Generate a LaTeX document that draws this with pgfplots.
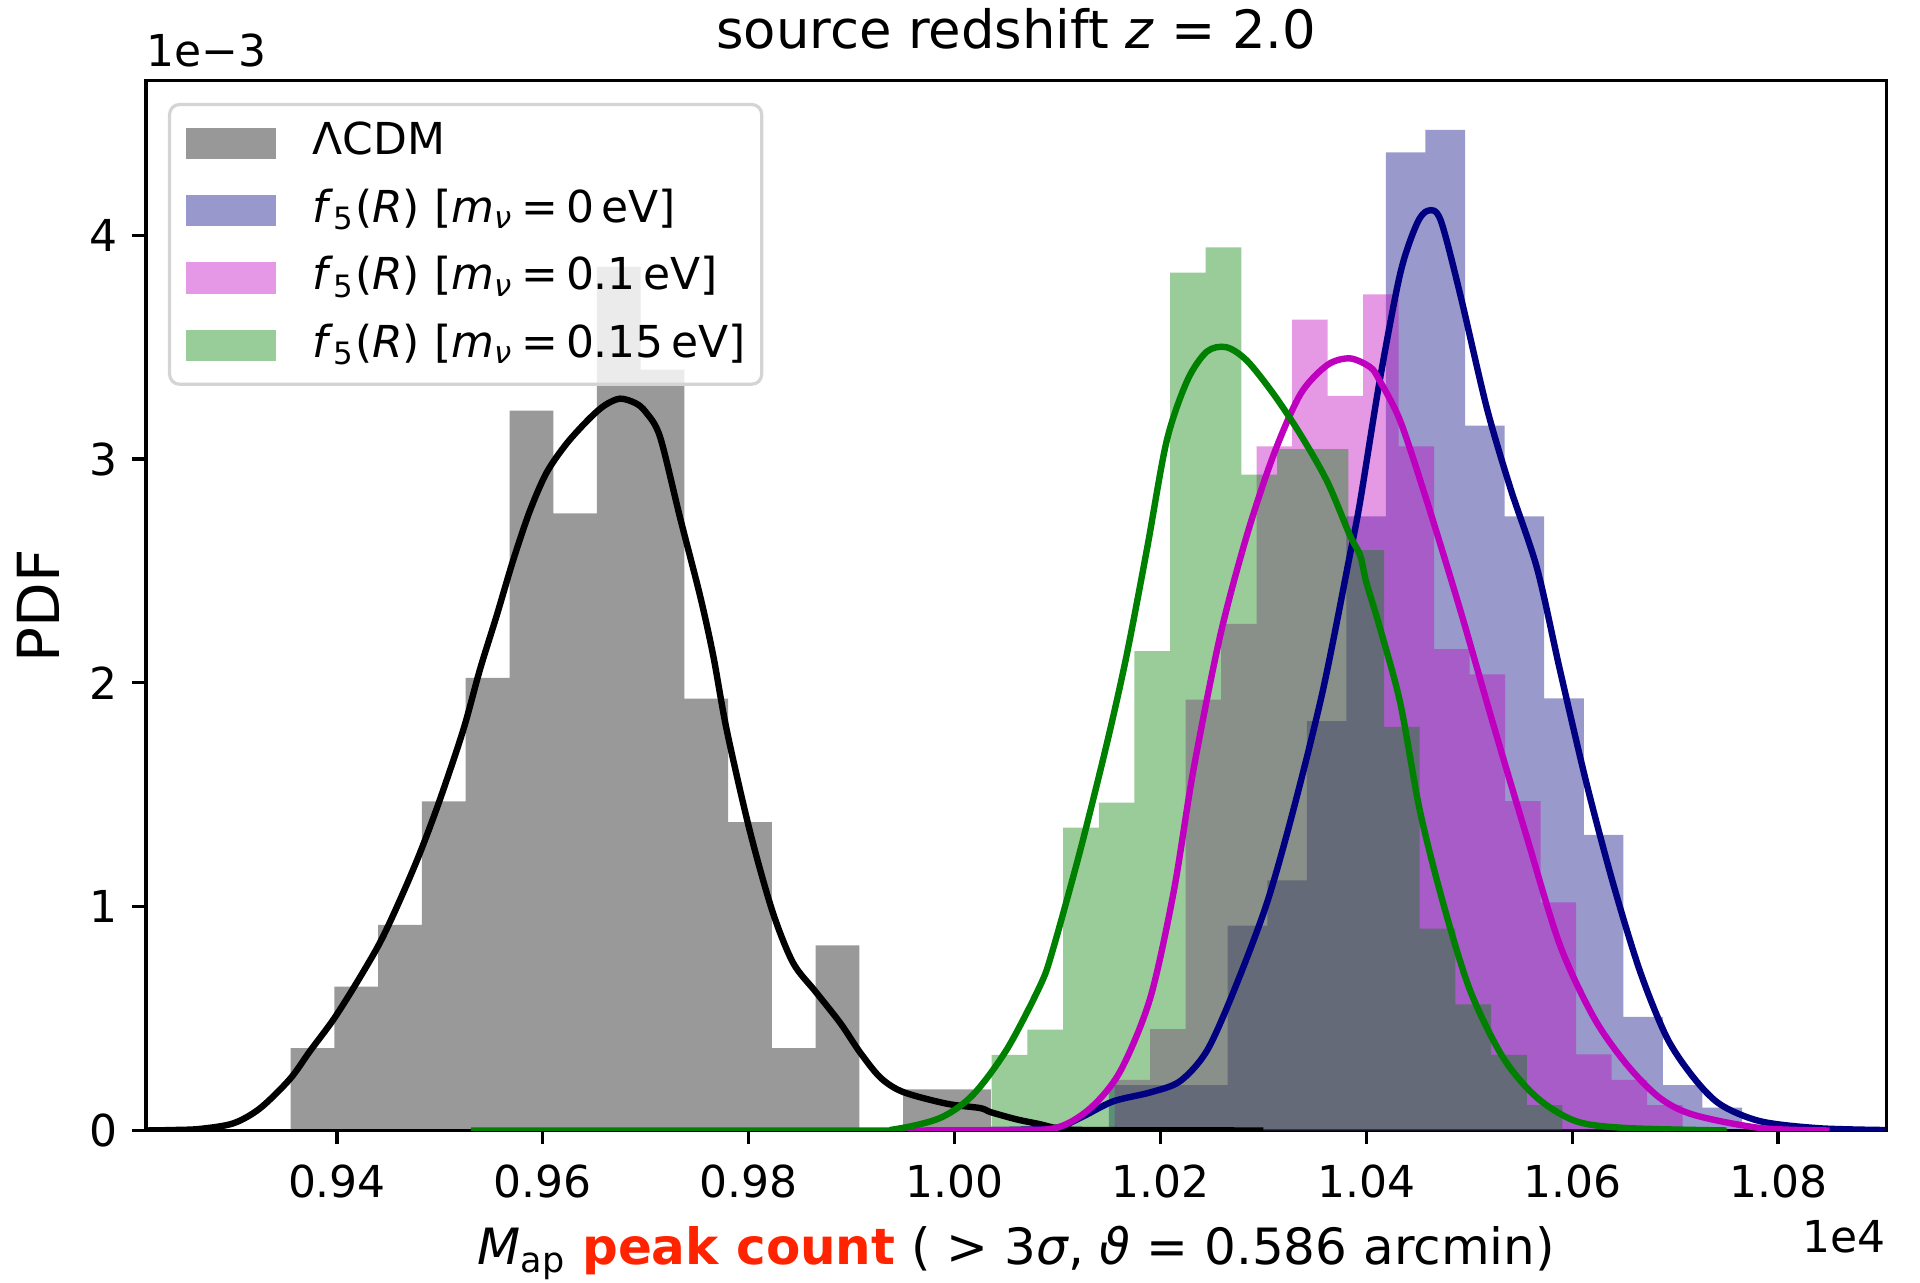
\documentclass[border=0pt]{standalone}
\usepackage{fontspec}
\setmainfont{DejaVu Sans}
\usepackage{pgfplots}
\pgfplotsset{compat=1.18}
\usepackage{pgfplotstable}
\definecolor{mnavy}{RGB}{0,0,128}
\definecolor{mmag}{RGB}{191,0,191}
\definecolor{mgreen}{RGB}{0,128,0}
\definecolor{mred}{RGB}{255,35,0}
\newcommand{\eq}{\kern0.18em=\kern0.18em}

% histograms: left bin edge, density (1e-3); last row closes last bin
\pgfplotstableread{
x h
0.93550 0.368
0.93975 0.643
0.94400 0.919
0.94825 1.470
0.95250 2.022
0.95676 3.216
0.96101 2.757
0.96526 3.859
0.96951 3.400
0.97376 1.930
0.97801 1.378
0.98226 0.368
0.98651 0.827
0.99076 0.000
0.99501 0.184
0.99927 0.184
1.00352 0.184
}\histA
\pgfplotstableread{
x h
1.01500 0.203
1.01884 0.203
1.02269 0.203
1.02653 0.915
1.03038 1.118
1.03422 1.829
1.03806 2.744
1.04191 4.370
1.04575 4.471
1.04960 3.150
1.05344 2.744
1.05728 1.931
1.06113 1.321
1.06497 0.508
1.06882 0.203
1.07266 0.102
1.07650 0.102
}\histB
\pgfplotstableread{
x h
1.01554 0.226
1.01899 0.453
1.02244 1.925
1.02589 2.264
1.02934 3.057
1.03279 3.623
1.03624 3.283
1.03969 3.736
1.04314 3.057
1.04659 2.151
1.05004 2.038
1.05349 1.472
1.05694 1.019
1.06039 0.340
1.06384 0.226
1.06729 0.113
1.07074 0.113
}\histC
\pgfplotstableread{
x h
1.00361 0.338
1.00708 0.451
1.01054 1.353
1.01401 1.465
1.01747 2.142
1.02094 3.833
1.02440 3.946
1.02787 2.931
1.03133 3.044
1.03480 3.044
1.03826 2.593
1.04173 1.804
1.04519 0.902
1.04866 0.564
1.05212 0.338
1.05559 0.113
1.05905 0.113
}\histD

% KDE curves
\pgfplotstableread{
x y
0.92144 0.000
0.92400 0.002
0.92669 0.007
0.92993 0.032
0.93252 0.099
0.93543 0.230
0.93738 0.355
0.93964 0.495
0.94191 0.660
0.94418 0.840
0.94612 1.030
0.94806 1.240
0.95001 1.480
0.95227 1.790
0.95389 2.060
0.95551 2.300
0.95713 2.550
0.95875 2.770
0.96037 2.940
0.96232 3.070
0.96450 3.180
0.96600 3.240
0.96749 3.270
0.96900 3.250
0.97000 3.210
0.97138 3.100
0.97332 2.740
0.97527 2.390
0.97656 2.120
0.97786 1.790
0.98010 1.340
0.98230 0.980
0.98430 0.750
0.98650 0.620
0.98890 0.480
0.99080 0.350
0.99280 0.236
0.99500 0.172
0.99920 0.120
1.00250 0.100
1.00350 0.082
1.00600 0.050
1.00830 0.028
1.01000 0.010
1.01300 0.002
1.03000 0.000
}\kdeA
\pgfplotstableread{
x y
1.00000 0.000
1.00600 0.003
1.00990 0.012
1.01220 0.056
1.01540 0.130
1.01900 0.170
1.02190 0.220
1.02450 0.355
1.02710 0.620
1.03030 1.010
1.03290 1.430
1.03580 1.970
1.03840 2.570
1.03940 2.810
1.04130 3.350
1.04330 3.830
1.04490 4.050
1.04600 4.110
1.04720 4.070
1.04910 3.740
1.05170 3.230
1.05400 2.870
1.05660 2.510
1.05880 2.060
1.06140 1.550
1.06400 1.100
1.06660 0.710
1.06920 0.415
1.07180 0.236
1.07440 0.116
1.07830 0.041
1.08400 0.010
1.09050 0.002
}\kdeB
\pgfplotstableread{
x y
0.99500 0.000
1.00500 0.002
1.00990 0.012
1.01320 0.100
1.01610 0.265
1.01900 0.590
1.02130 1.070
1.02320 1.610
1.02580 2.210
1.02840 2.660
1.03100 3.020
1.03360 3.290
1.03620 3.420
1.03840 3.450
1.04040 3.410
1.04130 3.350
1.04330 3.170
1.04590 2.810
1.04910 2.330
1.05230 1.820
1.05560 1.310
1.05880 0.830
1.06210 0.505
1.06530 0.295
1.06850 0.146
1.07180 0.070
1.07830 0.011
1.08500 0.000
}\kdeC
\pgfplotstableread{
x y
0.95300 0.000
0.99000 0.000
0.99410 0.005
0.99860 0.056
1.00180 0.160
1.00510 0.364
1.00830 0.646
1.00950 0.800
1.01220 1.250
1.01480 1.730
1.01670 2.120
1.01870 2.600
1.02060 3.080
1.02260 3.350
1.02450 3.480
1.02640 3.500
1.02840 3.440
1.03100 3.290
1.03360 3.110
1.03620 2.900
1.03840 2.660
1.03940 2.570
1.04000 2.450
1.04130 2.250
1.04330 1.910
1.04520 1.430
1.04750 1.010
1.05010 0.624
1.05330 0.325
1.05660 0.146
1.06040 0.041
1.06530 0.011
1.07500 0.000
}\kdeD

\begin{document}
\begin{tikzpicture}
\path[use as bounding box] (-36.5pt,-38.125pt) rectangle (443.5pt,282.625pt);
\begin{axis}[
  name=ax,
  at={(0,0)}, anchor=south west,
  scale only axis, width=435.125pt, height=262.4pt,
  xmin=0.921444, xmax=1.090539, ymin=0, ymax=4.690,
  axis line style={line width=0.8pt},
  tick align=outside, xtick pos=bottom, ytick pos=left,
  major tick length=3.5pt,
  tick style={line width=0.8pt, black},
  xtick={0.94,0.96,0.98,1.00,1.02,1.04,1.06,1.08},
  xticklabels={0.94,0.96,0.98,1.00,1.02,1.04,1.06,1.08},
  ytick={0,1,2,3,4},
  yticklabels={0,1,2,3,4},
  scaled ticks=false,
  ticklabel style={font=\fontsize{11}{13}\selectfont},
  xticklabel style={anchor=base, inner sep=0pt, yshift=-13.3pt},
  yticklabel style={anchor=east, inner sep=0pt, xshift=-3.4pt},
  legend image code/.code={\fill[#1, sharp corners] (0pt,-3.9pt) rectangle (22.5pt,3.9pt);},
  legend cell align=left,
  legend style={
    at={(axis description cs:0,1)}, anchor=north west,
    xshift=5.5pt, yshift=-5.5pt,
    draw=black!17, line width=0.8pt, rounded corners=2.5pt,
    fill=white, fill opacity=0.8, text opacity=1, draw opacity=1,
    font=\fontsize{11}{13}\selectfont,
    inner xsep=4pt, inner ysep=4.2pt,
    row sep=5.85pt, column sep=9.25pt,
    nodes={inner sep=0pt, text height=8.4pt, text depth=2.6pt},
  },
]
\addplot[const plot, fill=black, fill opacity=0.4, draw=none] table[x=x,y=h] {\histA} \closedcycle;
\addlegendentry{ΛCDM}
\addplot[const plot, fill=mnavy, fill opacity=0.4, draw=none] table[x=x,y=h] {\histB} \closedcycle;
\addlegendentry{\textit{f}\textsubscript{5}(\textit{R}) [\textit{m}\textsubscript{\textit{ν}}\eq0\,eV]}
\addplot[const plot, fill=mmag, fill opacity=0.4, draw=none] table[x=x,y=h] {\histC} \closedcycle;
\addlegendentry{\textit{f}\textsubscript{5}(\textit{R}) [\textit{m}\textsubscript{\textit{ν}}\eq0.1\,eV]}
\addplot[const plot, fill=mgreen, fill opacity=0.4, draw=none] table[x=x,y=h] {\histD} \closedcycle;
\addlegendentry{\textit{f}\textsubscript{5}(\textit{R}) [\textit{m}\textsubscript{\textit{ν}}\eq0.15\,eV]}

\addplot[forget plot, black, line width=1.6pt, smooth, tension=0.5] table[x=x,y=y] {\kdeA};
\addplot[forget plot, mnavy, line width=1.6pt, smooth, tension=0.5] table[x=x,y=y] {\kdeB};
\addplot[forget plot, mmag, line width=1.6pt, smooth, tension=0.5] table[x=x,y=y] {\kdeC};
\addplot[forget plot, mgreen, line width=1.6pt, smooth, tension=0.5] table[x=x,y=y] {\kdeD};
\end{axis}
\node[anchor=base, font=\fontsize{13.2}{15}\selectfont, inner sep=0pt] at ([yshift=8.15pt]ax.north) {source redshift \textit{z} = 2.0};
\node[anchor=base west, font=\fontsize{11}{13}\selectfont, inner sep=0pt] at ([yshift=3.5pt]ax.north west) {1e−3};
\node[anchor=base east, font=\fontsize{11}{13}\selectfont, inner sep=0pt] at ([yshift=-30.6pt]ax.south east) {1e4};
\node[anchor=base, font=\fontsize{12.5}{14}\selectfont, inner sep=0pt] at ([yshift=-33.6pt]ax.south) {\textit{M}\textsubscript{ap} {\bfseries\color{mred}peak count} ( > 3\textit{σ}, \textit{ϑ} = 0.586 arcmin)};
\node[anchor=base, rotate=90, font=\fontsize{14.5}{16}\selectfont, inner sep=0pt] at ([xshift=-21.75pt]ax.west) {PDF};
\end{tikzpicture}
\end{document}
